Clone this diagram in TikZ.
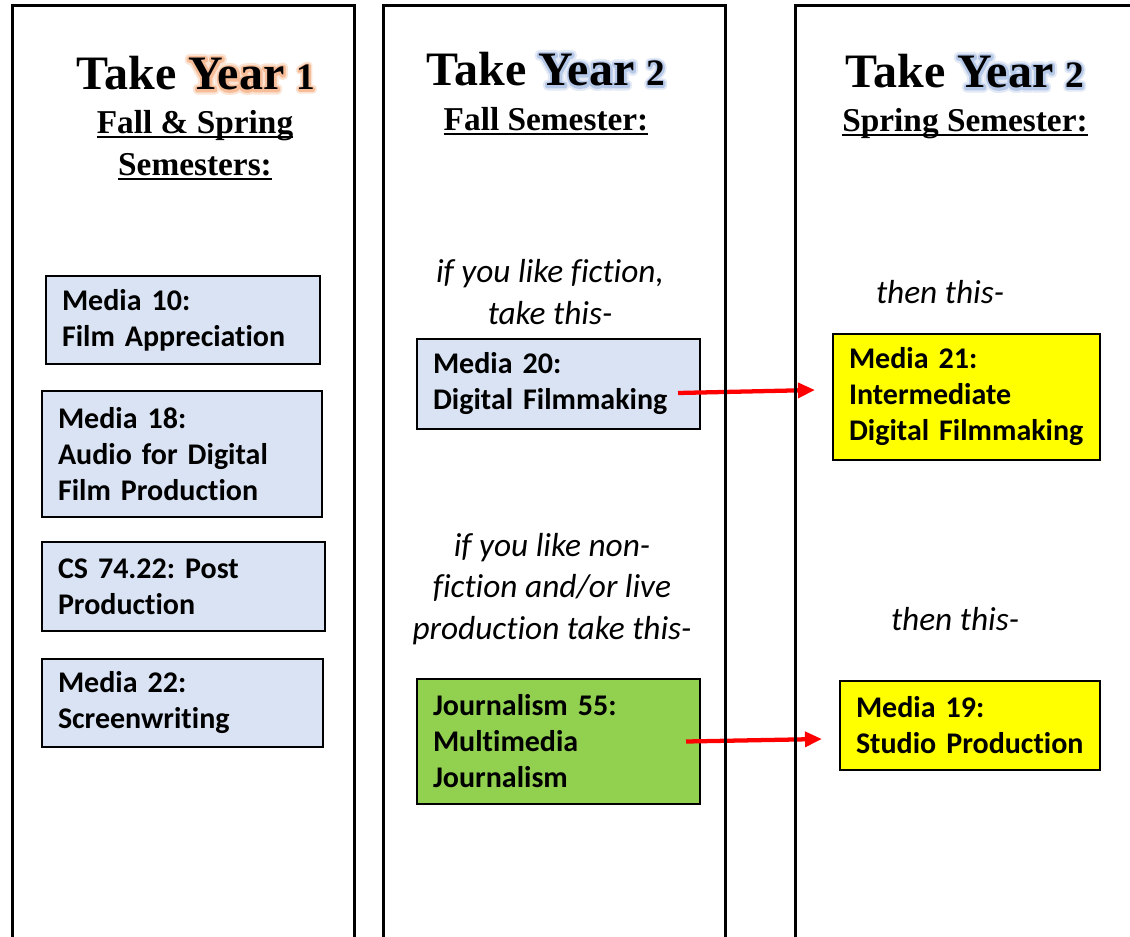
\documentclass[tikz,border=0pt]{standalone}
\usepackage{fontspec}
\usetikzlibrary{arrows.meta,calc}
\newfontfamily\headfont{Liberation Serif}
\newfontfamily\cfont[Ligatures=NoCommon]{Carlito}
\definecolor{lblue}{HTML}{DAE3F3}
\definecolor{lgreen}{HTML}{92D050}
\definecolor{lyellow}{HTML}{FFFF00}
\definecolor{gorangeA}{HTML}{F6BD98}
\definecolor{gorangeB}{HTML}{FCE4D5}
\definecolor{gblueA}{HTML}{B6C9E9}
\definecolor{gblueB}{HTML}{E3EAF6}
\definecolor{arrred}{HTML}{FF0000}
\newcommand\smalldig[1]{{\fontsize{28}{28}\selectfont #1}}
\newcommand\glow[3]{\leavevmode
  \special{pdf:literal direct 1 j}%
  \rlap{\addfontfeature{FakeBold=19}\color{#1}#3}%
  \rlap{\addfontfeature{FakeBold=10}\color{#2}#3}%
  \special{pdf:literal direct 0 j}%
  #3}
\newcommand\myul[1]{\sbox0{#1}\rlap{\rule[-3pt]{\wd0}{1.5pt}}\usebox0}
\tikzset{
  frame/.style={draw=black, line width=2.25pt},
  head/.style={anchor=base, inner sep=0pt, font={\headfont\bfseries\fontsize{36}{40}\selectfont}},
  sub/.style={anchor=base, inner sep=0pt, font={\headfont\bfseries\fontsize{25}{30}\selectfont}},
  course/.style={draw=black, line width=1.5pt, anchor=north west, align=left, inner xsep=12pt, inner ysep=0pt, font={\cfont\bfseries\fontsize{22.5}{27}\selectfont}},
  itl/.style={align=center, inner sep=0pt, font={\cfont\itshape\fontsize{25}{31}\selectfont}},
  arr/.style={draw=arrred, line width=3.2pt, -{Triangle[length=12.75pt,width=11pt]}}
}
\begin{document}
\begin{tikzpicture}[x=0.75pt,y=-0.75pt]
\clip (0,0) rectangle (1130,937);
\fill[white] (0,0) rectangle (1130,937);
% headings
\node[head] (h1) at (196,90) {Take \glow{gorangeB}{gorangeA}{Year \smalldig{1}}};
\node[sub] (s1a) at (195,134) {\myul{Fall \& Spring}};
\node[sub] (s1b) at (195,176) {\myul{Semesters:}};
\node[head] (h2) at (546,86) {Take \glow{gblueB}{gblueA}{Year \smalldig{2}}};
\node[sub] (s2a) at (546,131) {\myul{Fall Semester:}};
\node[head] (h3) at (965,88) {Take \glow{gblueB}{gblueA}{Year \smalldig{2}}};
\node[sub] (s3a) at (965,132) {\myul{Spring Semester:}};
% column 1 courses
\node[course, fill=lblue, minimum width=205.5pt, minimum height=66pt, text width=181.5pt] (m10) at (45,275) {Media 10:\\Film~Appreciation};
\node[course, fill=lblue, minimum width=210pt, minimum height=94.5pt, text width=186pt] (m18) at (41,390) {Media 18:\\Audio for~Digital\\Film~Production};
\node[course, fill=lblue, minimum width=212.25pt, minimum height=66.75pt, text width=188.25pt] (cs74) at (41,541) {CS 74.22:~Post\\Production};
\node[course, fill=lblue, minimum width=210.75pt, minimum height=66pt, text width=186.75pt] (m22) at (41,658) {Media 22:\\Screenwriting};
% column 2
\node[itl] (q1) at (550,292) {if you like fiction,\\take this-};
\node[course, fill=lblue, minimum width=212.25pt, minimum height=67.5pt, text width=188.25pt] (m20) at (416,338) {Media 20:\\Digital~Filmmaking};
\node[itl] (q2) at (552,589) {if you like non-\\fiction and/or live\\production take this-};
\node[course, fill=lgreen, minimum width=212.25pt, minimum height=93.75pt, text width=188.25pt] (j55) at (416,678) {Journalism 55:\\Multimedia\\Journalism};
% column 3
\node[itl] (t1) at (940,292) {then this-};
\node[course, fill=lyellow, minimum width=200.25pt, minimum height=94.5pt, text width=176.25pt] (m21) at (832,333) {Media 21:\\Intermediate\\Digital~Filmmaking};
\node[itl] (t2) at (955,619) {then this-};
\node[course, fill=lyellow, minimum width=195pt, minimum height=66.75pt, text width=171pt] (m19) at (839,680) {Media 19:\\Studio~Production};
% arrows
\coordinate (a1s) at ($(m20.east)+(-23,9)$);
\coordinate (a1e) at ($(m21.west)+(-17,-7)$);
\coordinate (a2s) at ($(j55.east)+(-15,0)$);
\coordinate (a2e) at ($(m19.west)+(-17,13.5)$);
\draw[arr] (a1s) -- (a1e);
\draw[arr] (a2s) -- (a2e);
% column frames
\draw[frame] (12,980) -- (12,6) -- (354,6) -- (354,980);
\draw[frame] (383,980) -- (383,6) -- (725,6) -- (725,980);
\draw[frame] (795,980) -- (795,6) -- (1160,6);
\end{tikzpicture}
\end{document}
